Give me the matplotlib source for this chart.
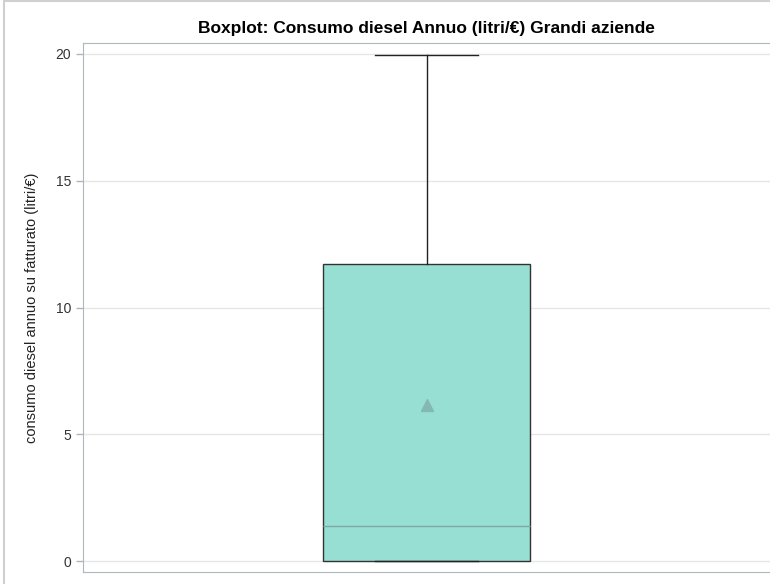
import matplotlib.pyplot as plt
from matplotlib.patches import Rectangle

plt.rcParams['font.family'] = ['Liberation Sans', 'DejaVu Sans']

# box statistics
label = 'Grandi aziende'
q1 = 0.0
median = 1.38
q3 = 11.72
whislo = 0.0
whishi = 19.96
mean = 6.15
yticks = [0, 5, 10, 15, 20]

fig = plt.figure(figsize=(7.7, 5.84), dpi=100)
ax = fig.add_axes([0.1078, 0.0205, 0.8922, 0.9059])

stats = [dict(label=label, q1=q1, med=median, q3=q3, whislo=whislo,
              whishi=whishi, mean=mean, fliers=[])]
ax.bxp(stats, positions=[0], widths=0.6, capwidths=0.3, patch_artist=True,
       showmeans=True,
       boxprops=dict(facecolor='#97DED3', edgecolor='#333333', linewidth=1),
       medianprops=dict(color='#7FA9A6', linewidth=1),
       whiskerprops=dict(color='#222222', linewidth=1),
       capprops=dict(color='#222222', linewidth=1),
       meanprops=dict(marker='^', markerfacecolor='#84B8B2',
                      markeredgecolor='#84B8B2', markersize=8))

ax.set_xlim(-1, 1)
ax.set_ylim(-0.43, 20.43)
ax.set_yticks(yticks)
ax.set_xticks([])
ax.yaxis.grid(True, color='#E6E6E6', linewidth=1)
ax.set_axisbelow(True)
ax.tick_params(axis='y', colors='#B0B7BB', labelcolor='#333333',
               labelsize=10, length=5, width=1)
for side in ['left', 'bottom', 'top']:
    ax.spines[side].set_color('#B0B7BB')
ax.spines['right'].set_visible(False)

ax.set_ylabel('consumo diesel annuo su fatturato (litri/€)', fontsize=10.5,
              color='#222222', labelpad=12)
ax.set_title('Boxplot: Consumo diesel Annuo (litri/€) Grandi aziende',
             fontsize=12.5, fontweight='bold', pad=7)

# light frame around the whole image
fig.patches.append(Rectangle((0.005, -0.01), 1.2, 1.008, transform=fig.transFigure,
                             fill=False, edgecolor='#D0D0D0', linewidth=1.5))

fig.savefig('out.png', dpi=100)
